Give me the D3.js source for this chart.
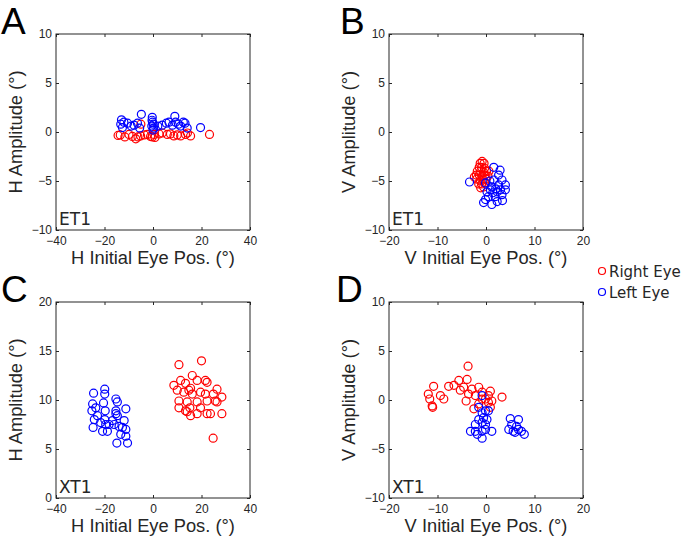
<!DOCTYPE html>
<html lang="en">
<head>
<meta charset="UTF-8">
<title>Saccade amplitude vs initial eye position</title>
<script src="https://d3js.org/d3.v7.min.js"></script>
<style>
  body { margin: 0; background: #fff; }
  svg { display: block; }
  .tick-label { font-family: "Liberation Sans", Arial, sans-serif; font-size: 12px; fill: #262626; }
  .axis-title { font-family: "Liberation Sans", Arial, sans-serif; font-size: 18.3px; fill: #262626; text-anchor: middle; }
  .panel-letter { font-family: "Liberation Sans", Arial, sans-serif; font-size: 37px; fill: #000; }
  .cond { font-family: "DejaVu Sans", sans-serif; font-size: 17px; fill: #262626; }
  .legend { font-family: "DejaVu Sans", sans-serif; font-size: 15px; fill: #262626; }
</style>
</head>
<body>
<div id="chart"></div>
<script>
// ---- data: [initial position, amplitude] in degrees ----
const aRight = [[-14.4,-0.35],[-13.5,-0.3],[-11.6,-0.5],[-9.9,-0.25],[-8.5,-0.45],[-7.1,-0.7],[-6.2,-0.5],[-5.1,-0.4],
  [-5.0,0.8],[-3.5,-0.3],[-2.3,-0.25],[-1.0,-0.45],[-0.3,-0.5],[0.4,-0.25],[0.8,-0.55],[2.5,-0.2],[3.8,-0.1],
  [5.9,-0.25],[7.2,-0.2],[8.6,-0.4],[10.0,-0.3],[11.4,-0.4],[13.4,-0.25],[14.2,-0.1],[15.5,-0.4],[23.3,-0.25]];
const aLeft = [[-13.0,1.24],[-13.3,0.8],[-12.6,0.45],[-12.0,1.0],[-10.5,0.9],[-9.0,0.6],[-7.8,0.7],[-6.4,0.9],
  [-5.5,0.4],[-4.8,1.8],[-0.3,1.5],[-0.4,1.2],[-0.2,1.0],[0.1,0.8],[-0.5,0.6],[0.3,0.4],[0.0,0.2],[2.0,0.6],
  [3.8,0.7],[5.5,0.9],[6.6,1.0],[8.0,0.7],[9.0,1.6],[9.3,1.0],[10.5,0.8],[11.4,0.6],[12.5,1.0],[13.2,0.9],
  [14.1,0.4],[19.6,0.45]];

const bRight = [[-0.8,-3.0],[-1.2,-3.2],[-0.4,-3.2],[-1.4,-3.6],[-0.9,-3.6],[-0.3,-3.7],[-1.8,-4.0],[-1.1,-4.0],
  [-0.5,-4.1],[0.1,-4.0],[-2.0,-4.4],[-1.4,-4.4],[-0.8,-4.5],[-0.2,-4.4],[0.4,-4.5],[-1.9,-4.8],[-1.2,-4.9],
  [-0.6,-4.9],[0.0,-4.8],[-1.5,-5.3],[-0.9,-5.3],[-0.3,-5.2],[-1.1,-5.7],[-0.5,-5.6],[-2.4,-4.6],[0.6,-4.0]];
const bLeft = [[-3.4,-5.1],[1.6,-3.6],[2.9,-3.9],[-0.1,-5.2],[1.2,-5.6],[2.6,-5.4],[4.0,-5.9],[3.3,-6.4],
  [1.9,-6.6],[0.5,-6.6],[-0.5,-7.2],[1.2,-7.4],[2.3,-7.1],[3.4,-7.0],[0.2,-6.1],[1.6,-4.9],[3.3,-4.9],
  [2.6,-4.4],[4.0,-5.4],[0.9,-5.9],[2.3,-6.1],[-0.1,-6.9],[0.8,-5.0],[2.0,-5.8],[3.0,-5.9],[1.4,-6.2]];

const cRight = [[10.7,13.6],[20.0,14.0],[8.6,11.5],[11.4,12.0],[13.4,11.7],[16.2,12.5],[18.2,12.0],[21.6,12.0],
  [22.3,11.8],[10.0,11.0],[12.7,10.8],[14.8,11.0],[15.5,11.2],[16.2,10.6],[19.6,10.8],[21.6,10.6],[26.4,11.1],
  [28.4,10.3],[24.9,10.6],[10.7,9.9],[10.7,9.2],[14.1,9.8],[15.2,9.2],[18.2,9.8],[19.6,9.2],[22.3,9.9],
  [25.7,9.9],[26.4,9.8],[14.1,8.8],[15.5,8.4],[18.2,8.6],[22.3,8.6],[23.7,8.6],[28.4,8.6],[24.8,6.1],[13.4,8.9]];
const cLeft = [[-24.5,10.7],[-24.9,9.6],[-25.2,8.9],[-24.2,8.0],[-24.7,7.2],[-23.6,9.2],[-19.9,11.1],[-19.9,10.6],
  [-20.4,9.7],[-19.7,8.9],[-19.9,8.0],[-19.5,7.5],[-18.8,6.8],[-18.1,7.5],[-16.7,7.9],[-15.3,10.1],[-14.7,9.8],
  [-15.3,8.9],[-14.7,8.4],[-16.0,7.5],[-14.0,7.3],[-14.9,5.6],[-13.3,6.5],[-11.2,9.1],[-11.9,7.9],[-11.2,7.0],
  [-11.2,6.3],[-10.5,5.6],[-12.6,7.2],[-22.9,8.4],[-21.6,7.7],[-20.8,6.8],[-15.3,8.6]];

const dRight = [[-11.9,0.6],[-11.6,0.1],[-11.1,-0.6],[-11.0,-0.75],[-10.8,1.4],[-9.4,0.45],[-8.7,0.1],[-7.7,1.4],
  [-6.6,1.5],[-5.6,2.0],[-5.3,1.0],[-3.9,2.1],[-3.7,3.45],[-4.6,1.3],[-3.6,0.6],[-4.1,-0.1],[-2.9,1.1],
  [-1.5,1.3],[-0.8,0.8],[0.9,0.9],[1.2,-0.1],[0.5,-0.25],[-0.1,0.1],[3.3,0.3],[-2.5,-0.9],[-1.5,-0.4],
  [-0.8,0.1],[0.5,0.45],[-2.2,0.45],[0.9,-0.75]];
const dLeft = [[-0.8,0.45],[-1.5,-0.75],[-0.8,-1.3],[-0.1,-1.1],[0.5,-1.1],[-0.5,-1.8],[0.2,-2.0],[-0.8,-2.3],
  [-1.5,-2.0],[-2.2,-2.5],[-0.1,-2.5],[-2.2,-3.2],[-3.2,-3.2],[-0.8,-3.2],[-1.8,-3.5],[-0.8,-3.9],[1.2,-3.2],
  [-0.1,-3.0],[5.0,-1.9],[6.7,-2.0],[4.7,-3.0],[5.3,-2.5],[6.3,-2.7],[6.0,-3.3],[6.7,-3.0],[7.9,-3.5],
  [7.3,-3.2],[5.6,-3.2]];

const hTicks = [-40, -20, 0, 20, 40];
const vTicks = [-20, -10, 0, 10, 20];
const ampTicks = [-10, -5, 0, 5, 10];
const cAmpTicks = [0, 5, 10, 15, 20];
const legendLabels = ["Right Eye", "Left Eye"];

const RED = "#ff0000", BLUE = "#0000ff", AXIS = "#262626";

const svg = d3.select("#chart").append("svg")
  .attr("width", 682)
  .attr("height", 536);

const panels = [
  { letter: "A", lx: 1, cond: "ET1", x0: 56, y0: 34, xt: hTicks, yt: ampTicks, xl: "H Initial Eye Pos. (°)", yl: "H Amplitude (°)", right: aRight, left: aLeft },
  { letter: "B", lx: 340, cond: "ET1", x0: 389, y0: 34, xt: vTicks, yt: ampTicks, xl: "V Initial Eye Pos. (°)", yl: "V Amplitude (°)", right: bRight, left: bLeft },
  { letter: "C", lx: 1, cond: "XT1", x0: 56, y0: 302, xt: hTicks, yt: cAmpTicks, xl: "H Initial Eye Pos. (°)", yl: "H Amplitude (°)", right: cRight, left: cLeft },
  { letter: "D", lx: 336, cond: "XT1", x0: 389, y0: 302, xt: vTicks, yt: ampTicks, xl: "V Initial Eye Pos. (°)", yl: "V Amplitude (°)", right: dRight, left: dLeft }
];

const W = 194, H = 196, TICK = 3;

panels.forEach(p => {
  const g = svg.append("g").attr("transform", `translate(${p.x0},${p.y0})`);

  const x = d3.scaleLinear().domain(d3.extent(p.xt)).range([0, W]);
  const y = d3.scaleLinear().domain(d3.extent(p.yt)).range([H, 0]);

  // points: right eye first, left eye on top
  [[p.right, RED], [p.left, BLUE]].forEach(([pts, col]) => {
    g.selectAll(null)
      .data(pts)
      .enter().append("circle")
      .attr("cx", d => x(d[0]))
      .attr("cy", d => y(d[1]))
      .attr("r", 4)
      .attr("fill", "none")
      .attr("stroke", col)
      .attr("stroke-width", 1.2);
  });

  // matlab style box axes, ticks pointing inward on all sides
  const styleAxis = sel => {
    sel.select(".domain").remove();
    sel.selectAll(".tick line").attr("stroke", AXIS);
    sel.selectAll(".tick text").attr("class", "tick-label").attr("fill", AXIS);
  };
  g.append("g").attr("transform", `translate(0,${H})`)
    .call(d3.axisBottom(x).tickValues(p.xt).tickSizeInner(-TICK).tickSizeOuter(0).tickPadding(6))
    .call(styleAxis);
  g.append("g")
    .call(d3.axisLeft(y).tickValues(p.yt).tickSizeInner(-TICK).tickSizeOuter(0).tickPadding(4))
    .call(styleAxis);
  g.append("g")
    .call(d3.axisTop(x).tickValues(p.xt).tickSizeInner(-TICK).tickSizeOuter(0).tickFormat(""))
    .call(styleAxis);
  g.append("g").attr("transform", `translate(${W},0)`)
    .call(d3.axisRight(y).tickValues(p.yt).tickSizeInner(-TICK).tickSizeOuter(0).tickFormat(""))
    .call(styleAxis);

  g.selectAll(".tick text").style("font-family", "'Liberation Sans', Arial, sans-serif").style("font-size", "12px");

  g.append("rect")
    .attr("width", W).attr("height", H)
    .attr("fill", "none").attr("stroke", AXIS).attr("stroke-width", 1);

  g.append("text").attr("class", "cond")
    .attr("x", 3).attr("y", H - 5)
    .text(p.cond);

  g.append("text").attr("class", "axis-title")
    .attr("x", W / 2).attr("y", 230)
    .text(p.xl);

  g.append("text").attr("class", "axis-title")
    .attr("transform", `translate(${-34},${H / 2}) rotate(-90)`)
    .text(p.yl);

  g.append("text").attr("class", "panel-letter")
    .attr("x", p.lx - p.x0)
    .attr("y", -0.5)
    .text(p.letter);
});

// legend
const leg = svg.append("g").attr("transform", "translate(602,271)");
legendLabels.forEach((lab, i) => {
  leg.append("circle")
    .attr("cx", 0).attr("cy", i * 21)
    .attr("r", 3.5)
    .attr("fill", "none")
    .attr("stroke", i === 0 ? RED : BLUE)
    .attr("stroke-width", 1.2);
  leg.append("text").attr("class", "legend")
    .attr("x", 7).attr("y", i * 21 + 5.5)
    .text(lab);
});
</script>
</body>
</html>
